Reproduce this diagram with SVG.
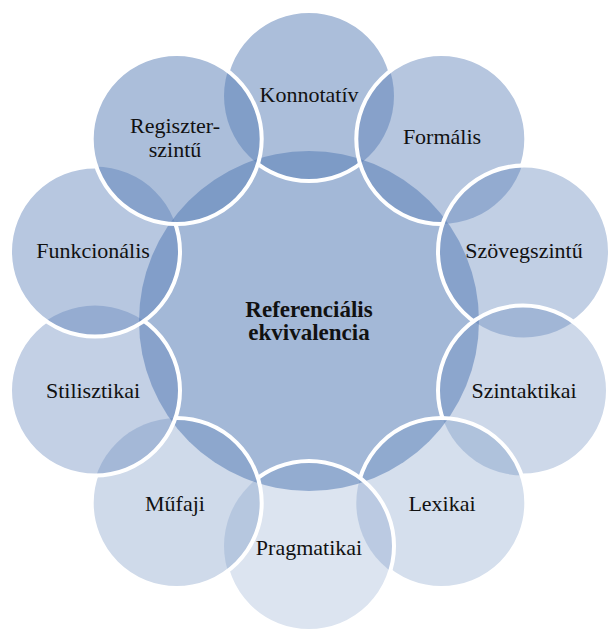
<svg xmlns="http://www.w3.org/2000/svg" xmlns:xlink="http://www.w3.org/1999/xlink" width="611" height="630" viewBox="0 0 611 630">
<style>
.fill{fill:#587EB6}
.ring{fill:none;stroke:#fff;stroke-width:4}
.lbl{font-family:"Liberation Serif","Times New Roman",serif;font-size:22px;fill:#111;text-anchor:middle}
.ctr{font-family:"Liberation Serif","Times New Roman",serif;font-size:23px;font-weight:bold;fill:#111;text-anchor:middle}
</style>
<defs>
<circle id="cK" cx="309" cy="96" r="85"/>
<circle id="cF" cx="441.3" cy="139" r="85"/>
<circle id="cSz" cx="524" cy="251.5" r="86"/>
<circle id="cSt" cx="523" cy="390.5" r="85"/>
<circle id="cL" cx="441.3" cy="503" r="85"/>
<circle id="cP" cx="309" cy="546" r="85"/>
<circle id="cM" cx="176.7" cy="503" r="85"/>
<circle id="cS" cx="95" cy="390.5" r="85"/>
<circle id="cFu" cx="95" cy="251.5" r="85"/>
<circle id="cR" cx="176.7" cy="139" r="85"/>
<mask id="mK" maskUnits="userSpaceOnUse" x="0" y="0" width="611" height="630"><rect width="611" height="630" fill="#fff"/><use xlink:href="#cF" fill="#000"/><use xlink:href="#cSz" fill="#000"/><use xlink:href="#cSt" fill="#000"/><use xlink:href="#cL" fill="#000"/><use xlink:href="#cP" fill="#000"/><use xlink:href="#cM" fill="#000"/><use xlink:href="#cS" fill="#000"/><use xlink:href="#cFu" fill="#000"/><use xlink:href="#cR" fill="#000"/></mask>
<mask id="mF" maskUnits="userSpaceOnUse" x="0" y="0" width="611" height="630"><rect width="611" height="630" fill="#fff"/><use xlink:href="#cSz" fill="#000"/><use xlink:href="#cSt" fill="#000"/><use xlink:href="#cL" fill="#000"/><use xlink:href="#cP" fill="#000"/><use xlink:href="#cM" fill="#000"/><use xlink:href="#cS" fill="#000"/><use xlink:href="#cFu" fill="#000"/><use xlink:href="#cR" fill="#000"/></mask>
<mask id="mSz" maskUnits="userSpaceOnUse" x="0" y="0" width="611" height="630"><rect width="611" height="630" fill="#fff"/><use xlink:href="#cSt" fill="#000"/><use xlink:href="#cL" fill="#000"/><use xlink:href="#cP" fill="#000"/><use xlink:href="#cM" fill="#000"/><use xlink:href="#cS" fill="#000"/><use xlink:href="#cFu" fill="#000"/><use xlink:href="#cR" fill="#000"/></mask>
<mask id="mSt" maskUnits="userSpaceOnUse" x="0" y="0" width="611" height="630"><rect width="611" height="630" fill="#fff"/><use xlink:href="#cL" fill="#000"/><use xlink:href="#cP" fill="#000"/><use xlink:href="#cM" fill="#000"/><use xlink:href="#cS" fill="#000"/><use xlink:href="#cFu" fill="#000"/><use xlink:href="#cR" fill="#000"/></mask>
<mask id="mL" maskUnits="userSpaceOnUse" x="0" y="0" width="611" height="630"><rect width="611" height="630" fill="#fff"/><use xlink:href="#cP" fill="#000"/><use xlink:href="#cM" fill="#000"/><use xlink:href="#cS" fill="#000"/><use xlink:href="#cFu" fill="#000"/><use xlink:href="#cR" fill="#000"/></mask>
<mask id="mP" maskUnits="userSpaceOnUse" x="0" y="0" width="611" height="630"><rect width="611" height="630" fill="#fff"/><use xlink:href="#cM" fill="#000"/><use xlink:href="#cS" fill="#000"/><use xlink:href="#cFu" fill="#000"/><use xlink:href="#cR" fill="#000"/></mask>
<mask id="mM" maskUnits="userSpaceOnUse" x="0" y="0" width="611" height="630"><rect width="611" height="630" fill="#fff"/><use xlink:href="#cS" fill="#000"/><use xlink:href="#cFu" fill="#000"/><use xlink:href="#cR" fill="#000"/></mask>
<mask id="mS" maskUnits="userSpaceOnUse" x="0" y="0" width="611" height="630"><rect width="611" height="630" fill="#fff"/><use xlink:href="#cFu" fill="#000"/><use xlink:href="#cR" fill="#000"/></mask>
<mask id="mFu" maskUnits="userSpaceOnUse" x="0" y="0" width="611" height="630"><rect width="611" height="630" fill="#fff"/><use xlink:href="#cR" fill="#000"/></mask>
</defs>
<rect width="611" height="630" fill="#fff"/>
<g id="connectors"/>
<g id="node-center">
<circle class="fill" cx="309" cy="321" r="170" fill-opacity="0.55"/>
<text class="ctr" x="309" y="317">Referenciális</text>
<text class="ctr" x="309" y="340">ekvivalencia</text>
</g>
<g id="node-konnotativ">
<use xlink:href="#cK" class="fill" fill-opacity="0.5"/>
<use xlink:href="#cK" class="ring" mask="url(#mK)"/>
<text class="lbl" x="309" y="102">Konnotatív</text>
</g>
<g id="node-formalis">
<use xlink:href="#cF" class="fill" fill-opacity="0.44"/>
<use xlink:href="#cF" class="ring" mask="url(#mF)"/>
<text class="lbl" x="442" y="144">Formális</text>
</g>
<g id="node-szovegszintu">
<use xlink:href="#cSz" class="fill" fill-opacity="0.37"/>
<use xlink:href="#cSz" class="ring" mask="url(#mSz)"/>
<text class="lbl" x="524" y="258">Szövegszintű</text>
</g>
<g id="node-szintaktikai">
<use xlink:href="#cSt" class="fill" fill-opacity="0.3"/>
<use xlink:href="#cSt" class="ring" mask="url(#mSt)"/>
<text class="lbl" x="524" y="398">Szintaktikai</text>
</g>
<g id="node-lexikai">
<use xlink:href="#cL" class="fill" fill-opacity="0.25"/>
<use xlink:href="#cL" class="ring" mask="url(#mL)"/>
<text class="lbl" x="442" y="511">Lexikai</text>
</g>
<g id="node-pragmatikai">
<use xlink:href="#cP" class="fill" fill-opacity="0.21"/>
<use xlink:href="#cP" class="ring" mask="url(#mP)"/>
<text class="lbl" x="309" y="555">Pragmatikai</text>
</g>
<g id="node-mufaji">
<use xlink:href="#cM" class="fill" fill-opacity="0.29"/>
<use xlink:href="#cM" class="ring" mask="url(#mM)"/>
<text class="lbl" x="175" y="511">Műfaji</text>
</g>
<g id="node-stilisztikai">
<use xlink:href="#cS" class="fill" fill-opacity="0.36"/>
<use xlink:href="#cS" class="ring" mask="url(#mS)"/>
<text class="lbl" x="93" y="398">Stilisztikai</text>
</g>
<g id="node-funkcionalis">
<use xlink:href="#cFu" class="fill" fill-opacity="0.43"/>
<use xlink:href="#cFu" class="ring" mask="url(#mFu)"/>
<text class="lbl" x="93" y="258">Funkcionális</text>
</g>
<g id="node-regiszterszintu">
<use xlink:href="#cR" class="fill" fill-opacity="0.5"/>
<use xlink:href="#cR" class="ring"/>
<text class="lbl" x="175" y="133">Regiszter-</text>
<text class="lbl" x="175" y="157">szintű</text>
</g>
</svg>
